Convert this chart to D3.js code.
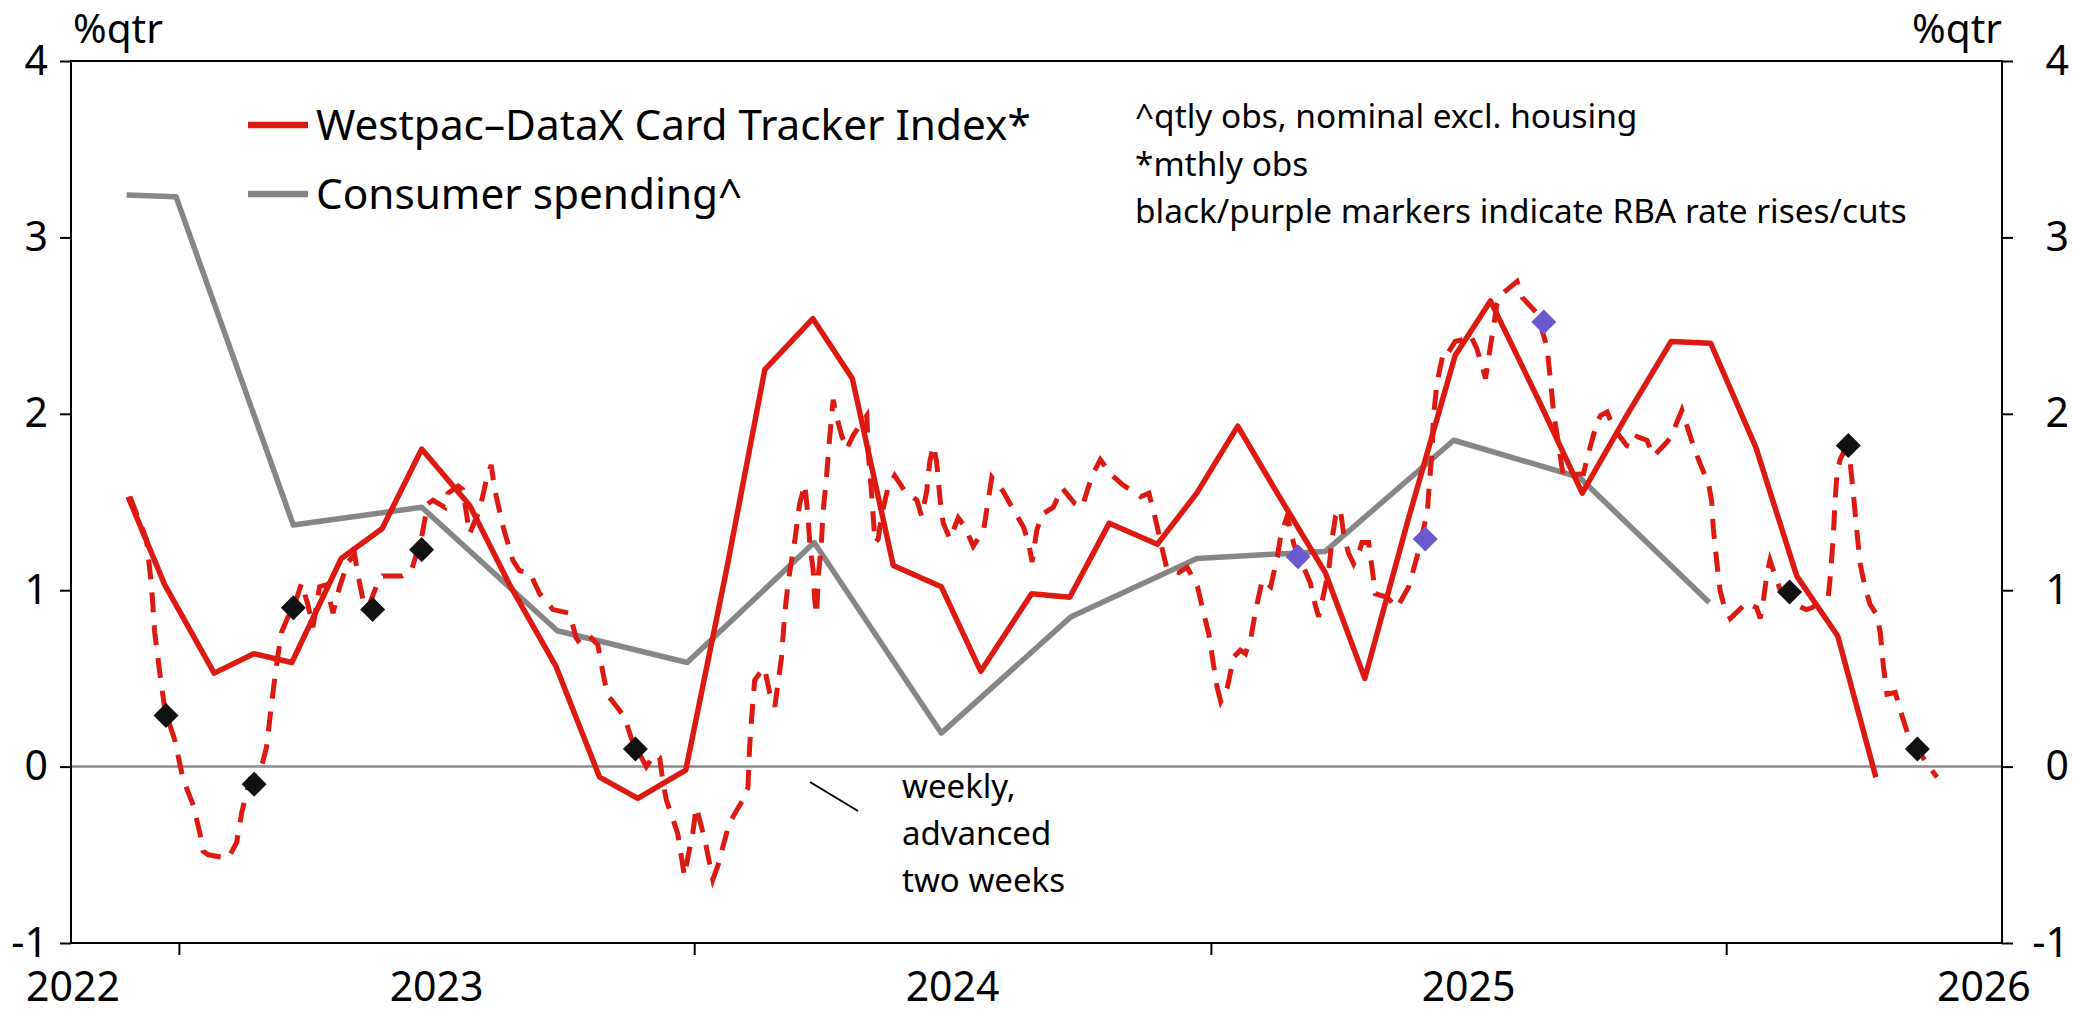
<!DOCTYPE html>
<html>
<head>
<meta charset="utf-8">
<script src="https://cdn.jsdelivr.net/npm/d3@7"></script>
<style>
  body { margin: 0; background: #fff; }
  svg { display: block; font-family: "Noto Sans", sans-serif; }
</style>
</head>
<body>
<svg id="chart"></svg>
<script>
// ---- data ----
let yTicks = [-1, 0, 1, 2, 3, 4]
let yearLabels = [2022, 2023, 2024, 2025, 2026]
let yearTicks = [2023, 2024, 2025, 2026]

// Consumer spending, %qtr (quarterly obs)
let spendDates = ['2022-11-25', '2022-12-30', '2023-03-23', '2023-06-22', '2023-09-26', '2023-12-27', '2024-03-26',
                  '2024-06-24', '2024-09-24', '2024-12-22', '2025-03-23', '2025-06-22', '2025-09-19', '2025-12-20']
let spendValues = [3.24, 3.23, 1.37, 1.47, 0.77, 0.59, 1.27, 0.19, 0.85, 1.18, 1.22, 1.85, 1.64, 0.93]

// Westpac-DataX Card Tracker Index, monthly obs
let cardDates = ['2022-11-26', '2022-12-22',
  '2023-01-26', '2023-02-23', '2023-03-22', '2023-04-26', '2023-05-25', '2023-06-22',
  '2023-07-26', '2023-08-24', '2023-09-25', '2023-10-26', '2023-11-22', '2023-12-26',
  '2024-01-24', '2024-02-20', '2024-03-25', '2024-04-22', '2024-05-21', '2024-06-24',
  '2024-07-22', '2024-08-27', '2024-09-23', '2024-10-21', '2024-11-24', '2024-12-22',
  '2025-01-20', '2025-02-17', '2025-03-23', '2025-04-20', '2025-05-20', '2025-06-23',
  '2025-07-18', '2025-08-21', '2025-09-21', '2025-10-21', '2025-11-23', '2025-12-21',
  '2026-01-22', '2026-02-20', '2026-03-21', '2026-04-17']
let cardValues = [1.53, 1.03,
  0.53, 0.64, 0.59, 1.18, 1.35, 1.80, 1.48, 1.02, 0.57, -0.06, -0.18, -0.02,
  1.12, 2.25, 2.54, 2.20, 1.14, 1.02, 0.54, 0.98, 0.96, 1.38, 1.26, 1.55,
  1.93, 1.55, 1.10, 0.50, 1.38, 2.33, 2.64, 2.08, 1.55, 1.97, 2.41, 2.40,
  1.81, 1.08, 0.74, -0.06]

// weekly tracker, advanced two weeks: [decimal year, %qtr]
let weeklyObs = [
  [2022.905, 1.53], [2022.937, 1.29], [2022.947, 1.02], [2022.953, 0.76], [2022.963, 0.53], [2022.973, 0.32],
  [2022.992, 0.15], [2023.008, -0.07], [2023.028, -0.22], [2023.041, -0.38], [2023.047, -0.48], [2023.057, -0.50],
  [2023.096, -0.52], [2023.112, -0.43], [2023.122, -0.26], [2023.138, -0.07], [2023.157, -0.04], [2023.170, 0.11],
  [2023.180, 0.36], [2023.189, 0.57], [2023.199, 0.76], [2023.209, 0.83], [2023.228, 0.95], [2023.238, 1.04],
  [2023.251, 0.91], [2023.260, 0.79], [2023.273, 1.02], [2023.286, 1.03], [2023.299, 0.87], [2023.312, 1.02],
  [2023.328, 1.16], [2023.341, 1.20], [2023.348, 1.08], [2023.357, 0.95], [2023.367, 0.90], [2023.383, 1.02],
  [2023.396, 1.08], [2023.432, 1.08], [2023.451, 1.11], [2023.471, 1.30], [2023.483, 1.49], [2023.493, 1.51],
  [2023.516, 1.47], [2023.522, 1.55], [2023.542, 1.59], [2023.551, 1.57], [2023.564, 1.32], [2023.584, 1.46],
  [2023.597, 1.63], [2023.606, 1.71], [2023.613, 1.57], [2023.629, 1.36], [2023.648, 1.17], [2023.661, 1.11],
  [2023.681, 1.10], [2023.700, 0.98], [2023.726, 0.89], [2023.758, 0.87], [2023.771, 0.73], [2023.778, 0.70],
  [2023.797, 0.74], [2023.813, 0.69], [2023.823, 0.53], [2023.832, 0.40], [2023.839, 0.38], [2023.865, 0.28],
  [2023.878, 0.16], [2023.907, 0.00], [2023.923, 0.07], [2023.933, 0.05], [2023.939, -0.08], [2023.946, -0.19],
  [2023.959, -0.30], [2023.968, -0.38], [2023.981, -0.62], [2023.988, -0.51], [2023.997, -0.38], [2024.004, -0.23],
  [2024.014, -0.34], [2024.023, -0.45], [2024.036, -0.64], [2024.046, -0.56], [2024.056, -0.45], [2024.068, -0.32],
  [2024.094, -0.19], [2024.104, -0.12], [2024.107, 0.10], [2024.111, 0.27], [2024.117, 0.49], [2024.127, 0.53],
  [2024.136, 0.56], [2024.146, 0.42], [2024.156, 0.34], [2024.162, 0.47], [2024.169, 0.62], [2024.175, 0.86],
  [2024.182, 1.05], [2024.188, 1.16], [2024.195, 1.29], [2024.204, 1.49], [2024.214, 1.60], [2024.220, 1.43],
  [2024.224, 1.25], [2024.230, 1.12], [2024.233, 0.95], [2024.237, 0.86], [2024.240, 1.08], [2024.246, 1.25],
  [2024.249, 1.43], [2024.256, 1.64], [2024.262, 1.86], [2024.269, 2.08], [2024.275, 1.99], [2024.285, 1.88],
  [2024.295, 1.80], [2024.308, 1.88], [2024.334, 1.99], [2024.337, 1.77], [2024.343, 1.56], [2024.350, 1.27],
  [2024.356, 1.29], [2024.363, 1.43], [2024.375, 1.58], [2024.388, 1.65], [2024.408, 1.56], [2024.431, 1.51],
  [2024.440, 1.42], [2024.450, 1.56], [2024.456, 1.73], [2024.463, 1.82], [2024.469, 1.73], [2024.476, 1.51],
  [2024.482, 1.38], [2024.495, 1.29], [2024.511, 1.41], [2024.524, 1.36], [2024.540, 1.25], [2024.560, 1.34],
  [2024.569, 1.51], [2024.576, 1.64], [2024.598, 1.56], [2024.615, 1.47], [2024.637, 1.36], [2024.647, 1.27],
  [2024.654, 1.16], [2024.663, 1.34], [2024.673, 1.43], [2024.695, 1.47], [2024.712, 1.58], [2024.737, 1.49],
  [2024.750, 1.47], [2024.757, 1.53], [2024.770, 1.65], [2024.786, 1.74], [2024.809, 1.65], [2024.828, 1.60],
  [2024.864, 1.53], [2024.880, 1.55], [2024.893, 1.40], [2024.906, 1.23], [2024.915, 1.12], [2024.938, 1.10],
  [2024.954, 1.13], [2024.974, 1.02], [2024.986, 0.87], [2024.996, 0.75], [2025.006, 0.56], [2025.012, 0.45],
  [2025.019, 0.37], [2025.032, 0.45], [2025.044, 0.62], [2025.057, 0.66], [2025.067, 0.64], [2025.077, 0.72],
  [2025.087, 0.89], [2025.100, 1.06], [2025.116, 1.02], [2025.129, 1.19], [2025.135, 1.30], [2025.148, 1.42],
  [2025.161, 1.26], [2025.193, 1.04], [2025.203, 0.91], [2025.209, 0.85], [2025.219, 0.98], [2025.229, 1.12],
  [2025.235, 1.29], [2025.242, 1.42], [2025.251, 1.46], [2025.258, 1.31], [2025.267, 1.21], [2025.277, 1.15],
  [2025.287, 1.21], [2025.293, 1.27], [2025.306, 1.27], [2025.313, 1.12], [2025.319, 0.98], [2025.342, 0.96],
  [2025.361, 0.90], [2025.384, 1.02], [2025.400, 1.19], [2025.420, 1.44], [2025.423, 1.57], [2025.429, 1.78],
  [2025.432, 1.99], [2025.439, 2.18], [2025.452, 2.36], [2025.461, 2.35], [2025.474, 2.41], [2025.487, 2.42],
  [2025.503, 2.45], [2025.516, 2.37], [2025.533, 2.20], [2025.539, 2.32], [2025.546, 2.45], [2025.555, 2.62],
  [2025.565, 2.68], [2025.594, 2.75], [2025.604, 2.66], [2025.633, 2.57], [2025.652, 2.38], [2025.659, 2.19],
  [2025.665, 2.01], [2025.675, 1.82], [2025.681, 1.70], [2025.684, 1.65], [2025.723, 1.66], [2025.733, 1.78],
  [2025.749, 1.95], [2025.756, 1.99], [2025.769, 2.01], [2025.781, 1.92], [2025.807, 1.82], [2025.817, 1.81],
  [2025.827, 1.87], [2025.846, 1.85], [2025.859, 1.76], [2025.885, 1.84], [2025.895, 1.88], [2025.904, 1.95],
  [2025.914, 2.02], [2025.924, 1.93], [2025.936, 1.82], [2025.949, 1.72], [2025.966, 1.60], [2025.972, 1.50],
  [2025.975, 1.35], [2025.982, 1.15], [2025.988, 1.00], [2025.995, 0.92], [2026.008, 0.84], [2026.040, 0.93],
  [2026.059, 0.90], [2026.066, 0.84], [2026.072, 0.94], [2026.079, 1.09], [2026.085, 1.17], [2026.095, 1.08],
  [2026.105, 1.00], [2026.140, 0.91], [2026.156, 0.89], [2026.166, 0.90], [2026.198, 0.96], [2026.202, 1.08],
  [2026.208, 1.31], [2026.211, 1.50], [2026.215, 1.66], [2026.221, 1.74], [2026.231, 1.80], [2026.240, 1.74],
  [2026.247, 1.54], [2026.253, 1.35], [2026.260, 1.15], [2026.269, 1.02], [2026.279, 0.92], [2026.292, 0.86],
  [2026.299, 0.76], [2026.305, 0.57], [2026.312, 0.41], [2026.328, 0.42], [2026.341, 0.29], [2026.353, 0.18],
  [2026.389, 0.02], [2026.409, -0.06]
]

// RBA decisions on the weekly line: rises (black), cuts (purple)
let riseTimes = [2022.975, 2023.146, 2023.222, 2023.376, 2023.471, 2023.886, 2026.123, 2026.237, 2026.371]
let riseValues = [0.29, -0.10, 0.90, 0.89, 1.23, 0.10, 0.99, 1.82, 0.10]
let cutTimes = [2025.169, 2025.416, 2025.646]
let cutValues = [1.19, 1.29, 2.52]

let legendItems = ['Westpac\u2013DataX Card Tracker Index*', 'Consumer spending^']
let notes = ['^qtly obs, nominal excl. housing', '*mthly obs', 'black/purple markers indicate RBA rate rises/cuts']
let weeklyNote = ['weekly,', 'advanced', 'two weeks']

// ---- helpers ----
let yr = function(t) {
  let y = Math.floor(t), s = new Date(y, 0, 1), e = new Date(y + 1, 0, 1)
  return new Date(+s + (t - y) * (e - s))
}
let day = d3.timeParse('%Y-%m-%d')

let red = '#dc1a12', grey = '#868686', purple = '#6a5acd'
let width = 2073, height = 1013
let margin = {top: 61, right: 71, bottom: 70, left: 71}

let svg = d3.select('#chart')
  .attr('width', width)
  .attr('height', height)

let x = d3.scaleTime()
  .domain([yr(2022.7906), yr(2026.5352)])
  .range([margin.left, width - margin.right])

let y = d3.scaleLinear()
  .domain([-1, 4])
  .range([height - margin.bottom, margin.top])

// zero line
svg.append('line')
  .attr('x1', x.range()[0]).attr('x2', x.range()[1])
  .attr('y1', y(0)).attr('y2', y(0))
  .attr('stroke', '#8a8a8a')
  .attr('stroke-width', 2.5)

// axes
let fmt = d => String(d)
let left = svg.append('g')
  .attr('transform', 'translate(' + margin.left + ',0)')
  .call(d3.axisLeft(y).tickValues(yTicks).tickSize(11).tickSizeOuter(0).tickPadding(12).tickFormat(fmt))
let right = svg.append('g')
  .attr('transform', 'translate(' + (width - margin.right) + ',0)')
  .call(d3.axisRight(y).tickValues(yTicks).tickSize(11).tickSizeOuter(0).tickFormat(fmt))
right.selectAll('text').attr('text-anchor', 'end').attr('x', 67)
let bottom = svg.append('g')
  .attr('transform', 'translate(0,' + (height - margin.bottom) + ')')
  .call(d3.axisBottom(x).tickValues(yearTicks.map(d => new Date(d, 0, 1))).tickSize(12).tickSizeOuter(0).tickFormat(''))

;[left, right, bottom].forEach(g => {
  g.select('.domain').remove()
  g.selectAll('line').attr('stroke', '#000').attr('stroke-width', 2)
  g.selectAll('text').attr('fill', '#000')
  g.attr('font-size', 41).attr('font-family', '"Noto Sans", sans-serif')
})

// plot frame
svg.append('rect')
  .attr('x', margin.left).attr('y', margin.top)
  .attr('width', width - margin.left - margin.right)
  .attr('height', height - margin.top - margin.bottom)
  .attr('fill', 'none')
  .attr('stroke', '#000')
  .attr('stroke-width', 2)

// year labels sit mid-year; 2022 is pinned to the left edge
svg.append('g').selectAll('text')
  .data(yearLabels)
  .enter().append('text')
  .attr('x', d => Math.max(x(yr(d + 0.5)), margin.left + 2))
  .attr('y', 1001)
  .attr('text-anchor', 'middle')
  .attr('font-size', 41)
  .text(d => d)

// unit labels
svg.append('text').attr('x', 73).attr('y', 43).attr('font-size', 40.5).text('%qtr')
svg.append('text').attr('x', width - margin.right).attr('y', 43).attr('font-size', 40.5)
  .attr('text-anchor', 'end').text('%qtr')

// series
let line = d3.line()
  .x(d => x(d[0]))
  .y(d => y(d[1]))

let spend = spendDates.map((d, i) => [day(d), spendValues[i]])
let card = cardDates.map((d, i) => [day(d), cardValues[i]])
let weekly = weeklyObs.map(d => [yr(d[0]), d[1]])

svg.append('path')
  .datum(spend)
  .attr('fill', 'none')
  .attr('stroke', grey)
  .attr('stroke-width', 5.5)
  .attr('stroke-linejoin', 'round')
  .attr('d', line)

svg.append('path')
  .datum(weekly)
  .attr('fill', 'none')
  .attr('stroke', red)
  .attr('stroke-width', 5)
  .attr('stroke-dasharray', '20,13')
  .attr('d', line)

svg.append('path')
  .datum(card)
  .attr('fill', 'none')
  .attr('stroke', red)
  .attr('stroke-width', 5.5)
  .attr('stroke-linejoin', 'round')
  .attr('d', line)

// RBA markers
let diamond = d3.symbol().type(d3.symbolSquare).size(313)
let markers = riseTimes.map((t, i) => ({t: t, v: riseValues[i], c: '#111'}))
  .concat(cutTimes.map((t, i) => ({t: t, v: cutValues[i], c: purple})))
svg.append('g').selectAll('path')
  .data(markers)
  .enter().append('path')
  .attr('d', diamond)
  .attr('fill', d => d.c)
  .attr('transform', d => 'translate(' + x(yr(d.t)) + ',' + y(d.v) + ') rotate(45)')

// legend
let legend = svg.append('g')
legendItems.forEach((label, i) => {
  let ly = 125 + i * 69
  legend.append('line')
    .attr('x1', 248).attr('x2', 308)
    .attr('y1', ly).attr('y2', ly)
    .attr('stroke', i == 0 ? red : grey)
    .attr('stroke-width', 6.5)
  legend.append('text')
    .attr('x', 316).attr('y', ly + 15)
    .attr('font-size', 42.3)
    .text(label)
})

// notes
svg.append('g').selectAll('text')
  .data(notes)
  .enter().append('text')
  .attr('x', 1135)
  .attr('y', (d, i) => 128 + i * 47.5)
  .attr('font-size', 33.4)
  .text(d => d)

svg.append('g').selectAll('text')
  .data(weeklyNote)
  .enter().append('text')
  .attr('x', 902)
  .attr('y', (d, i) => 798 + i * 47)
  .attr('font-size', 33)
  .text(d => d)

svg.append('line')
  .attr('x1', 810).attr('y1', 782)
  .attr('x2', 858).attr('y2', 811)
  .attr('stroke', '#000')
  .attr('stroke-width', 2)
</script>
</body>
</html>
